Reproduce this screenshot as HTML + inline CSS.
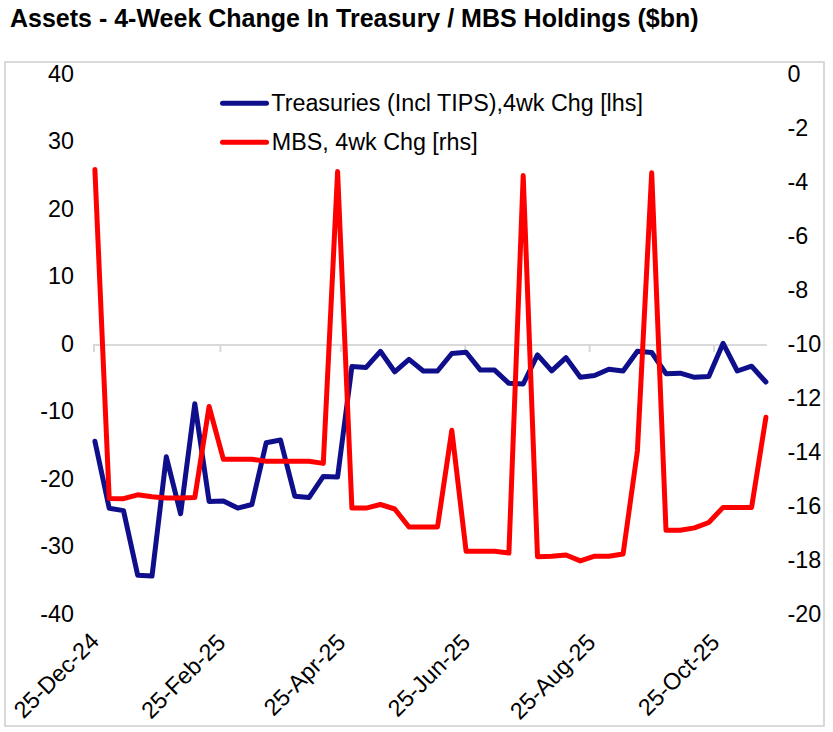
<!DOCTYPE html>
<html><head><meta charset="utf-8"><style>
html,body{margin:0;padding:0;background:#fff;}
body{width:833px;height:732px;overflow:hidden;position:relative;font-family:"Liberation Sans", sans-serif;}
.title{position:absolute;left:10px;top:4.3px;font-weight:bold;font-size:25px;color:#000;white-space:nowrap;}
svg{position:absolute;left:0;top:0;}
</style></head><body>
<svg width="833" height="732" viewBox="0 0 833 732">
<rect x="5" y="62" width="819" height="664" fill="#fff" stroke="#d9d9d9" stroke-width="2" stroke-linejoin="round"/>
<line x1="93" y1="345" x2="767" y2="345" stroke="#d9d9d9" stroke-width="2"/>
<line x1="94.0" y1="345" x2="94.0" y2="352" stroke="#d9d9d9" stroke-width="2"/>
<line x1="220.4" y1="345" x2="220.4" y2="352" stroke="#d9d9d9" stroke-width="2"/>
<line x1="340.8" y1="345" x2="340.8" y2="352" stroke="#d9d9d9" stroke-width="2"/>
<line x1="465.2" y1="345" x2="465.2" y2="352" stroke="#d9d9d9" stroke-width="2"/>
<line x1="589.6" y1="345" x2="589.6" y2="352" stroke="#d9d9d9" stroke-width="2"/>
<line x1="714.0" y1="345" x2="714.0" y2="352" stroke="#d9d9d9" stroke-width="2"/>
<text x="74" y="81.5" text-anchor="end" font-family='"Liberation Sans", sans-serif' font-size="23.3" fill="#000">40</text>
<text x="74" y="149.0" text-anchor="end" font-family='"Liberation Sans", sans-serif' font-size="23.3" fill="#000">30</text>
<text x="74" y="216.5" text-anchor="end" font-family='"Liberation Sans", sans-serif' font-size="23.3" fill="#000">20</text>
<text x="74" y="284.0" text-anchor="end" font-family='"Liberation Sans", sans-serif' font-size="23.3" fill="#000">10</text>
<text x="74" y="351.5" text-anchor="end" font-family='"Liberation Sans", sans-serif' font-size="23.3" fill="#000">0</text>
<text x="74" y="419.0" text-anchor="end" font-family='"Liberation Sans", sans-serif' font-size="23.3" fill="#000">-10</text>
<text x="74" y="486.5" text-anchor="end" font-family='"Liberation Sans", sans-serif' font-size="23.3" fill="#000">-20</text>
<text x="74" y="554.0" text-anchor="end" font-family='"Liberation Sans", sans-serif' font-size="23.3" fill="#000">-30</text>
<text x="74" y="621.5" text-anchor="end" font-family='"Liberation Sans", sans-serif' font-size="23.3" fill="#000">-40</text>
<text x="787.5" y="81.5" text-anchor="start" font-family='"Liberation Sans", sans-serif' font-size="23.3" fill="#000">0</text>
<text x="787.5" y="135.5" text-anchor="start" font-family='"Liberation Sans", sans-serif' font-size="23.3" fill="#000">-2</text>
<text x="787.5" y="189.5" text-anchor="start" font-family='"Liberation Sans", sans-serif' font-size="23.3" fill="#000">-4</text>
<text x="787.5" y="243.5" text-anchor="start" font-family='"Liberation Sans", sans-serif' font-size="23.3" fill="#000">-6</text>
<text x="787.5" y="297.5" text-anchor="start" font-family='"Liberation Sans", sans-serif' font-size="23.3" fill="#000">-8</text>
<text x="787.5" y="351.5" text-anchor="start" font-family='"Liberation Sans", sans-serif' font-size="23.3" fill="#000">-10</text>
<text x="787.5" y="405.5" text-anchor="start" font-family='"Liberation Sans", sans-serif' font-size="23.3" fill="#000">-12</text>
<text x="787.5" y="459.5" text-anchor="start" font-family='"Liberation Sans", sans-serif' font-size="23.3" fill="#000">-14</text>
<text x="787.5" y="513.5" text-anchor="start" font-family='"Liberation Sans", sans-serif' font-size="23.3" fill="#000">-16</text>
<text x="787.5" y="567.5" text-anchor="start" font-family='"Liberation Sans", sans-serif' font-size="23.3" fill="#000">-18</text>
<text x="787.5" y="621.5" text-anchor="start" font-family='"Liberation Sans", sans-serif' font-size="23.3" fill="#000">-20</text>
<text x="0" y="0" text-anchor="end" transform="translate(100.3,642.7) rotate(-45)" font-family='"Liberation Sans", sans-serif' font-size="23.3" fill="#000">25-Dec-24</text>
<text x="0" y="0" text-anchor="end" transform="translate(226.9,644.0) rotate(-45)" font-family='"Liberation Sans", sans-serif' font-size="23.3" fill="#000">25-Feb-25</text>
<text x="0" y="0" text-anchor="end" transform="translate(346.8,643.8) rotate(-45)" font-family='"Liberation Sans", sans-serif' font-size="23.3" fill="#000">25-Apr-25</text>
<text x="0" y="0" text-anchor="end" transform="translate(471.7,643.8) rotate(-45)" font-family='"Liberation Sans", sans-serif' font-size="23.3" fill="#000">25-Jun-25</text>
<text x="0" y="0" text-anchor="end" transform="translate(596.8,643.8) rotate(-45)" font-family='"Liberation Sans", sans-serif' font-size="23.3" fill="#000">25-Aug-25</text>
<text x="0" y="0" text-anchor="end" transform="translate(721.0,643.8) rotate(-45)" font-family='"Liberation Sans", sans-serif' font-size="23.3" fill="#000">25-Oct-25</text>
<line x1="222.5" y1="103.3" x2="266.5" y2="103.3" stroke="#0f0f8c" stroke-width="5" stroke-linecap="round"/>
<line x1="222.5" y1="142.2" x2="266.5" y2="142.2" stroke="#ff0000" stroke-width="5" stroke-linecap="round"/>
<text x="271.3" y="111.2" font-family='"Liberation Sans", sans-serif' font-size="23.3" fill="#000">Treasuries (Incl TIPS),4wk Chg [lhs]</text>
<text x="271.8" y="150.4" font-family='"Liberation Sans", sans-serif' font-size="23.3" fill="#000">MBS, 4wk Chg [rhs]</text>
<polyline points="94.9,441.2 109.2,508.2 123.5,510.6 137.7,575.3 152.0,576.1 166.3,456.8 180.6,513.8 194.8,403.7 209.1,501.4 223.4,500.9 237.7,508.1 251.9,504.5 266.2,442.7 280.5,440.0 294.8,496.2 309.0,497.6 323.3,476.4 337.6,477.0 351.9,366.5 366.1,367.4 380.4,351.3 394.7,371.8 409.0,359.4 423.3,371.0 437.5,371.0 451.8,353.5 466.1,352.3 480.4,370.1 494.6,370.1 508.9,383.3 523.2,384.0 537.5,354.9 551.7,370.9 566.0,357.6 580.3,377.3 594.6,375.5 608.8,369.2 623.1,371.0 637.4,351.2 651.7,352.5 666.0,373.7 680.2,373.2 694.5,377.3 708.8,376.4 723.1,343.3 737.3,371.0 751.6,366.2 765.9,382.0" fill="none" stroke="#0f0f8c" stroke-width="5" stroke-linejoin="round" stroke-linecap="round"/>
<polyline points="94.9,169.5 109.2,498.4 123.5,498.7 137.7,494.8 152.0,496.8 166.3,498.0 180.6,498.0 194.8,497.6 209.1,406.5 223.4,459.3 237.7,459.3 251.9,459.3 266.2,461.3 280.5,461.3 294.8,461.3 309.0,461.3 323.3,463.4 337.6,171.6 351.9,508.1 366.1,508.1 380.4,504.5 394.7,509.0 409.0,527.0 423.3,527.0 437.5,527.0 451.8,430.3 466.1,551.3 480.4,551.3 494.6,551.3 508.9,553.1 523.2,175.5 537.5,556.7 551.7,556.2 566.0,555.0 580.3,560.9 594.6,556.2 608.8,556.2 623.1,554.0 637.4,451.0 651.7,172.7 666.0,530.3 680.2,530.3 694.5,527.9 708.8,522.5 723.1,507.4 737.3,507.4 751.6,507.4 765.9,417.3" fill="none" stroke="#ff0000" stroke-width="5" stroke-linejoin="round" stroke-linecap="round"/>
</svg>
<div class="title">Assets - 4-Week Change In Treasury / MBS Holdings ($bn)</div>
</body></html>
